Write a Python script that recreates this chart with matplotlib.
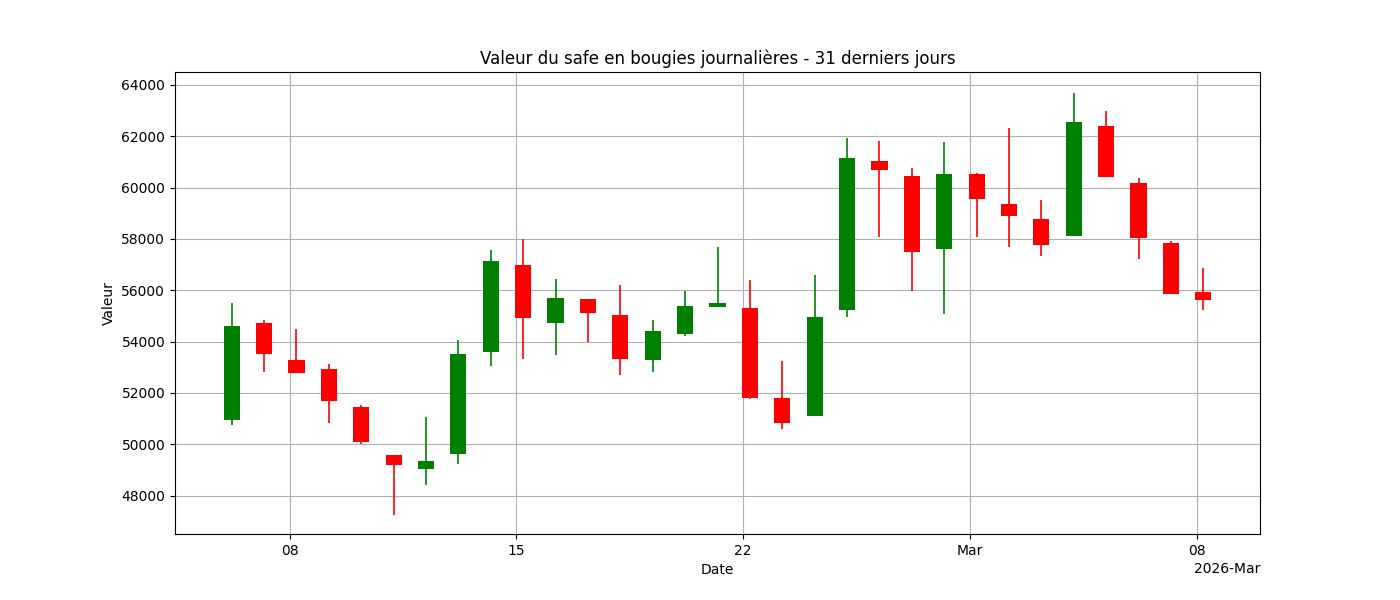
import matplotlib
matplotlib.use("Agg")
import matplotlib.pyplot as plt
import matplotlib.dates as mdates
import numpy as np
import pandas as pd

dates = pd.date_range("2026-02-06", "2026-03-08", freq="D") + pd.Timedelta(hours=5)
opens = [50955, 54724, 53272, 52918, 51465, 49580, 49030, 49620, 53586, 56963,
         54724, 55667, 55039, 53272, 54293, 55353, 55314, 51818, 51112, 55235,
         61047, 60458, 57591, 60537, 59358, 58769, 58102, 62382, 60183, 57827, 55942]
highs = [55510, 54842, 54489, 53114, 51543, 49580, 51072, 54057, 57552, 57977,
         56452, 55667, 56217, 54842, 55981, 57670, 56413, 53232, 56610, 61911,
         61793, 60772, 61754, 60576, 62304, 59516, 63678, 62971, 60379, 57905, 56845]
lows = [50758, 52800, 52761, 50837, 50012, 47224, 48402, 49227, 53036, 53311,
        53468, 53978, 52683, 52800, 54214, 55353, 51779, 50601, 51112, 54960,
        58062, 55981, 55078, 58062, 57670, 57316, 58102, 60419, 57199, 55863, 55235]
closes = [54607, 53507, 52761, 51701, 50091, 49187, 49344, 53507, 57120, 54921,
          55706, 55117, 53311, 54410, 55392, 55510, 51818, 50837, 54960, 61165,
          60694, 57473, 60537, 59555, 58887, 57748, 62539, 60419, 58023, 55863, 55628]

o = np.array(opens); c = np.array(closes)
colors = np.where(c >= o, "green", "red")
x = mdates.date2num(dates)

fig, ax = plt.subplots(figsize=(14, 6), dpi=100)
ax.vlines(x, lows, highs, colors=colors, linewidth=1.2, zorder=2)
ax.bar(x, np.abs(c - o), bottom=np.minimum(o, c), width=0.5, color=colors, zorder=3)
ax.set_xlim(mdates.date2num(pd.Timestamp("2026-02-04 11:00")),
            mdates.date2num(pd.Timestamp("2026-03-09 23:00")))
ax.set_ylim(46500, 64500)
loc = mdates.DayLocator(bymonthday=[1, 8, 15, 22])
ax.xaxis.set_major_locator(loc)
ax.xaxis.set_major_formatter(mdates.ConciseDateFormatter(loc))
ax.grid(True, zorder=0)
ax.set_axisbelow(True)
ax.set_title("Valeur du safe en bougies journalières - 31 derniers jours")
ax.set_xlabel("Date")
ax.set_ylabel("Valeur")
fig.savefig("out.png")
